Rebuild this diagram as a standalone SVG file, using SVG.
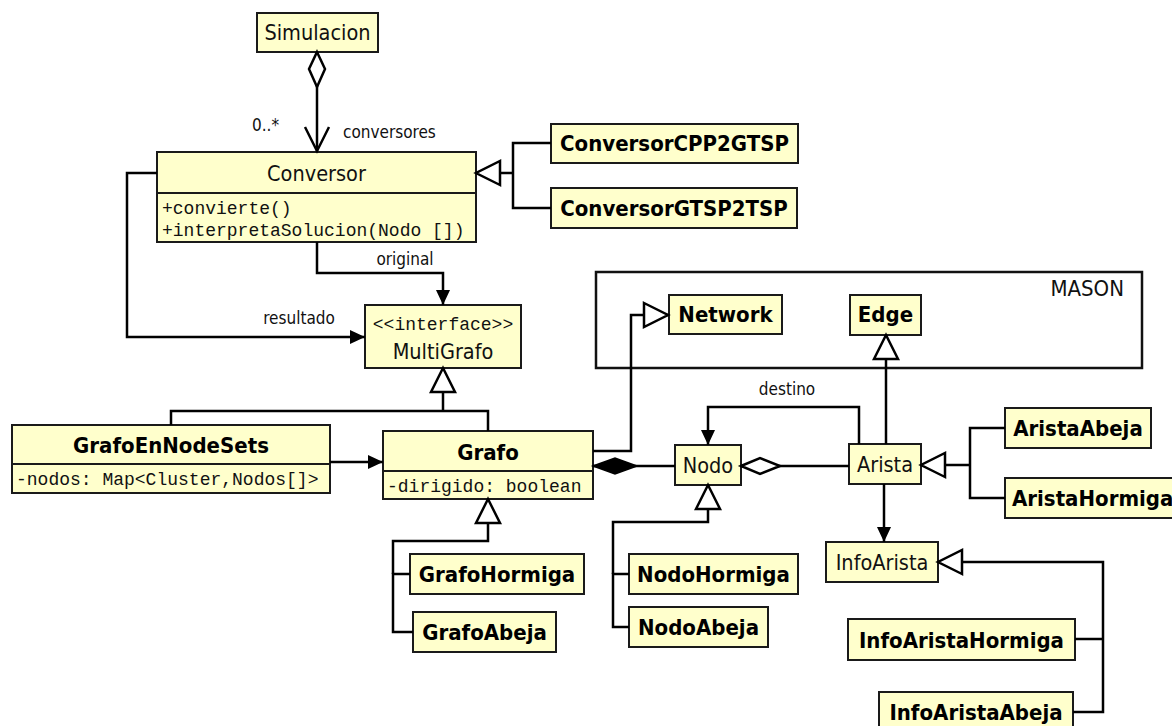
<svg xmlns="http://www.w3.org/2000/svg" width="1172" height="726" viewBox="0 0 1172 726">
  <defs>
    <style>
      .box { fill: #ffffcc; stroke: #1a1a1a; stroke-width: 2; }
      .sep { stroke: #1a1a1a; stroke-width: 2; }
      .frame { fill: none; stroke: #111; stroke-width: 2.5; }
      .t { font-family: "DejaVu Sans Condensed", "DejaVu Sans", sans-serif; font-size: 21.5px; fill: #111; text-anchor: middle; }
      .b { font-family: "DejaVu Sans Condensed", "DejaVu Sans", sans-serif; font-size: 22px; font-weight: bold; fill: #000; text-anchor: middle; }
      .m { font-family: "Liberation Mono", monospace; font-size: 18px; fill: #111; }
      .mc { text-anchor: middle; }
      .lbl { font-family: "DejaVu Sans Condensed", "DejaVu Sans", sans-serif; font-size: 17px; fill: #111; }
      .ctr { text-anchor: middle; }
      .ln { fill: none; stroke: #000; stroke-width: 2.5; }
      .gen { marker-end: url(#tri); }
      .nav { marker-end: url(#arr); }
    </style>
    <!-- filled navigation arrow -->
    <marker id="arr" markerUnits="userSpaceOnUse" markerWidth="16" markerHeight="16" refX="15" refY="7" orient="auto" overflow="visible">
      <path d="M0,0 L15,7 L0,14 z" fill="#000"/>
    </marker>
    <!-- hollow generalization triangle -->
    <marker id="tri" markerUnits="userSpaceOnUse" markerWidth="26" markerHeight="26" refX="25" refY="12" orient="auto" overflow="visible">
      <path d="M1,0 L25,12 L1,24 z" fill="#fff" stroke="#000" stroke-width="2.5"/>
    </marker>
    <!-- open arrow -->
    <marker id="vee" markerUnits="userSpaceOnUse" markerWidth="26" markerHeight="26" refX="24" refY="12" orient="auto" overflow="visible">
      <path d="M0,0 L24,12 L0,24" fill="none" stroke="#000" stroke-width="2.5"/>
    </marker>
    <!-- aggregation / composition diamonds -->
    <marker id="dia-open" markerUnits="userSpaceOnUse" markerWidth="44" markerHeight="20" refX="1" refY="8" orient="auto" overflow="visible">
      <path d="M1,8 L20,0 L40,8 L20,16 z" fill="#fff" stroke="#000" stroke-width="2.5"/>
    </marker>
    <marker id="dia-open-s" markerUnits="userSpaceOnUse" markerWidth="40" markerHeight="20" refX="1" refY="8" orient="auto" overflow="visible">
      <path d="M1,8 L18,0 L36,8 L18,16 z" fill="#fff" stroke="#000" stroke-width="2.5"/>
    </marker>
    <marker id="dia-full" markerUnits="userSpaceOnUse" markerWidth="46" markerHeight="20" refX="0" refY="8" orient="auto" overflow="visible">
      <path d="M0,8 L22,0 L44,8 L22,16 z" fill="#000" stroke="#000" stroke-width="1.5"/>
    </marker>
  </defs>

  <rect width="1172" height="726" fill="#fff"/>

  <!-- MASON package frame -->
  <g id="mason">
    <rect class="frame" x="596" y="272" width="546" height="96"/>
    <text class="lbl" x="1124" y="296" style="font-size:22px; text-anchor:end">MASON</text>
  </g>

  <!-- classes -->
  <g id="simulacion">
    <rect class="box" x="257" y="13" width="121" height="39"/>
    <text class="t" x="317.5" y="40">Simulacion</text>
  </g>
  <g id="conversor">
    <rect class="box" x="157" y="152" width="319" height="90"/>
    <line class="sep" x1="157" y1="193" x2="476" y2="193"/>
    <text class="t" x="316.5" y="181">Conversor</text>
    <text class="m" x="162" y="214">+convierte()</text>
    <text class="m" x="162" y="236">+interpretaSolucion(Nodo [])</text>
  </g>
  <g id="conversorCPP2GTSP">
    <rect class="box" x="551" y="124" width="247" height="39"/>
    <text class="b" x="674.5" y="151">ConversorCPP2GTSP</text>
  </g>
  <g id="conversorGTSP2TSP">
    <rect class="box" x="551" y="188" width="246" height="40"/>
    <text class="b" x="674" y="216">ConversorGTSP2TSP</text>
  </g>
  <g id="multigrafo">
    <rect class="box" x="365" y="305" width="156" height="63"/>
    <text class="m mc" x="443" y="330">&lt;&lt;interface&gt;&gt;</text>
    <text class="t" x="443" y="359">MultiGrafo</text>
  </g>
  <g id="network">
    <rect class="box" x="669" y="295" width="113" height="39"/>
    <text class="b" x="725.5" y="322">Network</text>
  </g>
  <g id="edge">
    <rect class="box" x="850" y="295" width="71" height="40"/>
    <text class="b" x="885.5" y="322">Edge</text>
  </g>
  <g id="grafoEnNodeSets">
    <rect class="box" x="12" y="425" width="318" height="68"/>
    <line class="sep" x1="12" y1="464" x2="330" y2="464"/>
    <text class="b" x="171" y="453">GrafoEnNodeSets</text>
    <text class="m" x="16" y="485">-nodos: Map&lt;Cluster,Nodos[]&gt;</text>
  </g>
  <g id="grafo">
    <rect class="box" x="383" y="431" width="210" height="68"/>
    <line class="sep" x1="383" y1="471" x2="593" y2="471"/>
    <text class="b" x="488" y="460">Grafo</text>
    <text class="m" x="387" y="492">-dirigido: boolean</text>
  </g>
  <g id="nodo">
    <rect class="box" x="675" y="445" width="66" height="40"/>
    <text class="t" x="708" y="473">Nodo</text>
  </g>
  <g id="arista">
    <rect class="box" x="849" y="444" width="72" height="40"/>
    <text class="t" x="885" y="472">Arista</text>
  </g>
  <g id="aristaAbeja">
    <rect class="box" x="1005" y="408" width="146" height="40"/>
    <text class="b" x="1078" y="436">AristaAbeja</text>
  </g>
  <g id="aristaHormiga">
    <rect class="box" x="1005" y="478" width="182" height="40"/>
    <text class="b" x="1012" y="506" style="text-anchor:start">AristaHormiga</text>
  </g>
  <g id="infoArista">
    <rect class="box" x="826" y="542" width="112" height="40"/>
    <text class="t" x="882" y="570">InfoArista</text>
  </g>
  <g id="infoAristaHormiga">
    <rect class="box" x="848" y="619" width="227" height="41"/>
    <text class="b" x="961.5" y="648">InfoAristaHormiga</text>
  </g>
  <g id="infoAristaAbeja">
    <rect class="box" x="879" y="692" width="194" height="42"/>
    <text class="b" x="976" y="720">InfoAristaAbeja</text>
  </g>
  <g id="grafoHormiga">
    <rect class="box" x="410" y="554" width="174" height="40"/>
    <text class="b" x="497" y="582">GrafoHormiga</text>
  </g>
  <g id="grafoAbeja">
    <rect class="box" x="413" y="612" width="143" height="40"/>
    <text class="b" x="484.5" y="640">GrafoAbeja</text>
  </g>
  <g id="nodoHormiga">
    <rect class="box" x="629" y="554" width="169" height="40"/>
    <text class="b" x="713.5" y="582">NodoHormiga</text>
  </g>
  <g id="nodoAbeja">
    <rect class="box" x="629" y="607" width="139" height="40"/>
    <text class="b" x="698.5" y="635">NodoAbeja</text>
  </g>

  <!-- connectors -->
  <g id="connectors">
    <!-- Simulacion aggregates Conversor -->
    <path class="ln" d="M317,52 V151" marker-start="url(#dia-open-s)" marker-end="url(#vee)"/>
    <text class="lbl" x="252" y="131">0..*</text>
    <text class="lbl" x="343" y="138">conversores</text>

    <!-- Conversor subclasses -->
    <path class="ln" d="M551,143 H513 V208 H551"/>
    <path class="ln gen" d="M513,173 H476"/>

    <!-- Conversor to MultiGrafo -->
    <path class="ln nav" d="M317,242 V273 H443 V305"/>
    <text class="lbl ctr" x="405" y="265">original</text>
    <path class="ln nav" d="M157,173 H127 V337 H365"/>
    <text class="lbl ctr" x="299" y="324">resultado</text>

    <!-- MultiGrafo realizations -->
    <path class="ln" d="M171,425 V411 H488 V431"/>
    <path class="ln gen" d="M443,411 V368"/>

    <!-- GrafoEnNodeSets uses Grafo -->
    <path class="ln nav" d="M330,462 H383"/>

    <!-- Grafo extends Network -->
    <path class="ln gen" d="M593,451 H631 V315 H668"/>

    <!-- Grafo composes Nodo -->
    <path class="ln" d="M593,466 H675" marker-start="url(#dia-full)"/>

    <!-- Arista aggregated by Nodo -->
    <path class="ln" d="M741,466 H849" marker-start="url(#dia-open)"/>

    <!-- Arista destino -->
    <path class="ln nav" d="M859,444 V407 H708 V445"/>
    <text class="lbl ctr" x="787" y="395">destino</text>

    <!-- Arista extends Edge -->
    <path class="ln gen" d="M886,444 V335"/>

    <!-- Nodo subclasses -->
    <path class="ln" d="M629,574 H613 V627 H629"/>
    <path class="ln gen" d="M613,574 V522 H708 V485"/>

    <!-- Grafo subclasses -->
    <path class="ln" d="M410,574 H393 V632 H413"/>
    <path class="ln gen" d="M393,574 V541 H488 V499"/>

    <!-- Arista subclasses -->
    <path class="ln" d="M1005,428 H970 V498 H1005"/>
    <path class="ln gen" d="M970,465 H921"/>

    <!-- Arista to InfoArista -->
    <path class="ln nav" d="M884,484 V542"/>

    <!-- InfoArista subclasses -->
    <path class="ln" d="M1075,639 H1103"/>
    <path class="ln gen" d="M1073,712 H1103 V562 H938"/>
  </g>
</svg>
